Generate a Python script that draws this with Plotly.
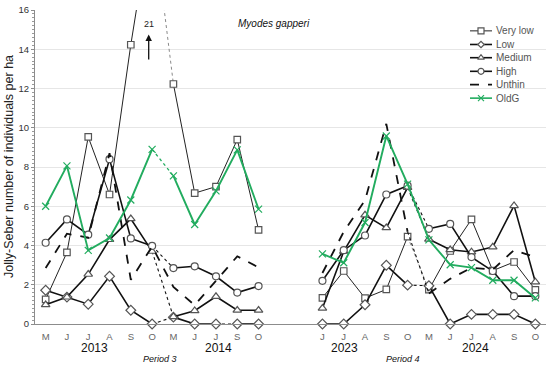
import plotly.graph_objects as go

# ---------------- data ----------------
months_2013 = ["M", "J", "J", "A", "S", "O"]
months_2014 = ["M", "J", "J", "S", "O"]
months_2023 = ["J", "J", "A", "S", "O"]
months_2024 = ["M", "J", "J", "A", "S", "O"]
years = ["2013", "2014", "2023", "2024"]
periods = ["Period 3", "Period 4"]
series_names = ["Very low", "Low", "Medium", "High", "Unthin", "OldG"]

# values in order 2013 | 2014 | 2023 | 2024
very_low = [1.25, 3.65, 9.53, 6.6, 14.23, 21,
            12.23, 6.67, 7.0, 9.4, 4.8,
            1.33, 2.7, 1.32, 1.76, 4.45,
            1.75, 3.72, 5.33, 2.72, 3.16, 1.74]
low = [1.72, 1.37, 1.01, 2.43, 0.7, 0,
       0.35, 0, 0, 0, 0,
       0, 0, 0.98, 2.99, 1.98,
       1.95, 0, 0.49, 0.49, 0.49, 0]
medium = [0.98, 1.37, 2.53, 4.3, 5.36, 3.7,
          0.37, 0.68, 1.4, 0.7, 0.7,
          0.8, 3.7, 5.55, 4.9, 6.95,
          4.32, 3.78, 3.67, 3.92, 6.03, 2.14]
high = [4.14, 5.33, 4.55, 8.4, 4.36, 3.98,
        2.85, 2.94, 2.43, 1.6, 1.93,
        2.2, 3.76, 4.51, 6.6, 7.05,
        4.85, 5.1, 3.41, 2.7, 1.42, 1.42]
unthin = [2.85, 4.6, 4.4, 8.7, 2.25, 3.95,
          1.89, 0.96, 2.2, 3.45, 2.88,
          2.6, 4.7, 6.3, 10.2, 4.7,
          1.56, 2.3, 2.87, 2.77, 3.77, 3.4]
oldg = [6.0, 8.06, 3.75, 4.38, 6.32, 8.9,
        7.55, 5.07, 6.78, 8.87, 5.85,
        3.57, 3.12, 5.17, 9.58, 7.13,
        4.29, 3.02, 2.87, 2.23, 2.23, 1.33]

# category slot of every sample (gap of two empty slots between periods)
pos = list(range(0, 6)) + list(range(6, 11)) + list(range(13, 18)) + list(range(18, 24))
tick_text = months_2013 + months_2014 + months_2023 + months_2024

# sample-index ranges
B2013, B2014, B2023, B2024 = (0, 5), (6, 10), (11, 15), (16, 21)

FONT = "Arial, Liberation Sans, sans-serif"
GREEN = "#22ac5f"
BLACK = "#111111"
MK_LINE = "#555555"


def seg_xy(vals, ranges):
    xs, ys = [], []
    for a, b in ranges:
        for i in range(a, b + 1):
            xs.append(pos[i])
            ys.append(vals[i])
        xs.append(None)
        ys.append(None)
    return xs, ys


fig = go.Figure()


def add_series(vals, solid_ranges, conn_ranges, color, width, dash, symbol, msize,
               conn_color=None, conn_dash="dot", conn_width=None):
    if conn_ranges:
        cx, cy = seg_xy(vals, conn_ranges)
        fig.add_trace(go.Scatter(x=cx, y=cy, mode="lines", showlegend=False,
                                 hoverinfo="skip",
                                 line=dict(color=conn_color or color, width=conn_width or width,
                                           dash=conn_dash)))
    x, y = seg_xy(vals, solid_ranges)
    fig.add_trace(go.Scatter(
        x=x, y=y, mode="lines+markers" if symbol else "lines", showlegend=False,
        cliponaxis=False,
        line=dict(color=color, width=width, dash=dash),
        marker=dict(symbol=symbol or "circle", size=msize, color="white",
                    line=dict(color=MK_LINE if symbol != "x-thin" else color, width=1.2))
        if symbol else None))


# Very low
add_series(very_low, [B2013, B2014, B2023, B2024], [(5, 6), (15, 16)],
           "#222222", 1.0, "solid", "square", 6.5, conn_color="#8a8a8a", conn_width=1.0)
# Low
add_series(low, [B2013, (6, 8), (9, 10), B2023, B2024], [(5, 6), (8, 9), (15, 16)],
           BLACK, 1.6, "solid", "diamond", 7.5, conn_width=1.1)
# Medium
add_series(medium, [B2013, B2014, B2023, B2024], [(5, 6), (15, 16)],
           BLACK, 1.6, "solid", "triangle-up", 7.5, conn_width=1.1)
# High
add_series(high, [B2013, B2014, B2023, B2024], [(5, 6), (15, 16)],
           BLACK, 1.6, "solid", "circle", 7, conn_width=1.1)
# Unthin
add_series(unthin, [(0, 10), B2023, B2024], [(15, 16)],
           BLACK, 1.8, "dash", None, 0, conn_width=1.1)
# OldG
add_series(oldg, [B2013, B2014, (11, 21)], [(5, 6)],
           GREEN, 1.9, "solid", "x-thin", 7, conn_width=1.3)

# ---------------- geometry (page pixels) ----------------
W, H = 550, 367
L, R, T, BOT = 35, 546, 8, 324          # plot area in page pixels


def px_x(p):
    return (p - L) / (R - L)


def px_y(p):
    return (BOT - p) / (BOT - T)


# ---------------- manual legend ----------------
leg_y = [29, 42.7, 56, 69.7, 83, 96.7]
leg_style = [
    dict(color="#222222", width=1.0, dash="solid", symbol="square", size=6),
    dict(color=BLACK, width=1.6, dash="solid", symbol="diamond", size=5),
    dict(color=BLACK, width=1.6, dash="solid", symbol="triangle-up", size=6),
    dict(color=BLACK, width=1.6, dash="solid", symbol="circle", size=6),
    dict(color=BLACK, width=1.8, dash="dash", symbol=None, size=0),
    dict(color=GREEN, width=1.6, dash="solid", symbol="x-thin", size=6),
]
for name, yy, st in zip(series_names, leg_y, leg_style):
    fig.add_trace(go.Scatter(
        x=[px_x(470), px_x(481), px_x(492)], y=[px_y(yy)] * 3,
        xaxis="x2", yaxis="y2", mode="lines", showlegend=False, hoverinfo="skip",
        line=dict(color=st["color"], width=st["width"], dash=st["dash"])))
    if st["symbol"]:
        fig.add_trace(go.Scatter(
            x=[px_x(481)], y=[px_y(yy)], xaxis="x2", yaxis="y2", mode="markers",
            showlegend=False, hoverinfo="skip",
            marker=dict(symbol=st["symbol"], size=st["size"], color="white",
                        line=dict(color=st["color"] if st["symbol"] == "x-thin" else MK_LINE,
                                  width=1.2))))
    fig.add_annotation(x=px_x(494), y=px_y(yy), xref="paper", yref="paper", text=name,
                       showarrow=False, xanchor="left", yanchor="middle",
                       font=dict(family=FONT, size=10, color="#555555"))

fig.add_shape(type="rect", xref="paper", yref="paper", x0=px_x(465), x1=px_x(529),
              y0=px_y(104), y1=px_y(17), fillcolor="white", line=dict(width=0),
              layer="between")

# ---------------- annotations ----------------
fig.add_annotation(x=4.84, y=15.3, text="21", showarrow=False,
                   font=dict(family=FONT, size=9, color="#222222"))
fig.add_annotation(x=4.84, y=14.75, ax=4.84, ay=13.4, axref="x", ayref="y", text="",
                   showarrow=True, arrowhead=2, arrowsize=1, arrowwidth=1.3,
                   arrowcolor="#111111")
fig.add_annotation(x=10.72, y=15.3, text="<i>Myodes gapperi</i>", showarrow=False,
                   font=dict(family=FONT, size=10, color="#111111"))

year_x = [2.3, 8.1, 14.05, 20.2]
for yr, xx in zip(years, year_x):
    fig.add_annotation(x=xx, y=px_y(348), xref="x", yref="paper", text=yr, showarrow=False,
                       yanchor="middle", font=dict(family=FONT, size=12, color="#111111"))
period_x = [5.37, 16.8]
for pr, xx in zip(periods, period_x):
    fig.add_annotation(x=xx, y=px_y(359.5), xref="x", yref="paper", text="<i>" + pr + "</i>",
                       showarrow=False, yanchor="middle",
                       font=dict(family=FONT, size=9, color="#111111"))

fig.add_annotation(x=px_x(9), y=px_y(166), xref="paper", yref="paper",
                   xanchor="center", yanchor="middle",
                   text="Jolly-Seber number of individuals per ha", textangle=-90,
                   showarrow=False, font=dict(family=FONT, size=12.5, color="#222222"))

# ---------------- layout ----------------
fig.update_layout(
    width=W, height=H,
    margin=dict(l=L, r=W - R, t=T, b=H - BOT, pad=0),
    paper_bgcolor="white", plot_bgcolor="white",
    font=dict(family=FONT),
    showlegend=False,
    hovermode=False,
    xaxis=dict(range=[-0.5, 23.5], tickmode="array", tickvals=pos, ticktext=tick_text,
               showgrid=False, zeroline=False, showline=True, linecolor="#8c8c8c",
               linewidth=1, ticks="", ticklabelstandoff=4,
               tickfont=dict(family=FONT, size=9.5, color="#666666")),
    yaxis=dict(range=[0, 16], dtick=2, showgrid=True, gridcolor="#e6e6e6", zeroline=False,
               showline=True, linecolor="#8c8c8c", ticks="outside", ticklen=3,
               tickcolor="#8c8c8c",
               minor=dict(dtick=0.2, ticks="outside", ticklen=2, tickcolor="#9a9a9a",
                          showgrid=False),
               tickfont=dict(family=FONT, size=9.5, color="#333333")),
    xaxis2=dict(overlaying="x", range=[0, 1], visible=False, anchor="y2"),
    yaxis2=dict(overlaying="y", range=[0, 1], visible=False, anchor="x2"),
)

fig.write_html(
    "out.html",
    config={"displayModeBar": False, "staticPlot": True},
    post_script="document.body.style.margin='0';document.body.style.overflow='hidden';",
)
